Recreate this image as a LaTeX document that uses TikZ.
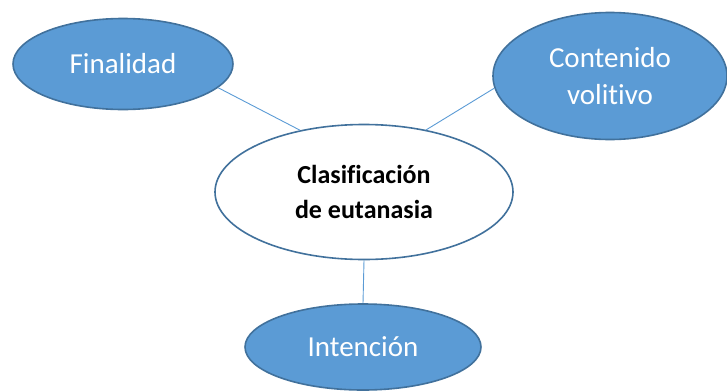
\documentclass[tikz,border=0pt]{standalone}
\usepackage{fontspec}
\setmainfont{Carlito}[Ligatures=NoCommon]
\usepackage{xcolor}
\usepackage{tikz}
\usetikzlibrary{shapes.geometric}
\definecolor{leafblue}{HTML}{5B9BD5}
\definecolor{edgeblue}{HTML}{41719C}
\tikzstyle{leaf} = [ellipse,draw=edgeblue,line width=1.6pt,fill=leafblue,text=white,inner sep=0pt,align=center,font=\fontsize{29}{37.5}\selectfont]
\tikzstyle{hub} = [ellipse,draw=edgeblue,line width=1.6pt,fill=white,text=black,inner sep=0pt,align=center,font=\fontsize{26}{35}\selectfont\bfseries]
\tikzstyle{link} = [leafblue,line width=0.9pt]

\begin{document}
\begin{tikzpicture}[x=1pt,y=1pt]
	\useasboundingbox (0,0) rectangle (727,-391);
	\begin{scope}
		
		% Centre:
		\node [hub,minimum width=298pt,minimum height=135pt] (clas) at (364,-192) {Clasificación\\de eutanasia};
		
		% Leaves:
		\node [leaf,minimum width=220pt,minimum height=91pt] (fin) at (123,-64) {Finalidad};
		\node [leaf,minimum width=234pt,minimum height=127pt] (cont) at (610,-76) {Contenido\\volitivo};
		\node [leaf,minimum width=236pt,minimum height=86pt] (inten) at (363,-347) {Intención};
		
		% Links:
		\draw [link] (fin.-14) -- (clas.136);
		\draw [link] (cont.186) -- (clas.45);
		\draw [link] (inten.north) -- (clas.south);
		
	\end{scope}
\end{tikzpicture}
\end{document}
